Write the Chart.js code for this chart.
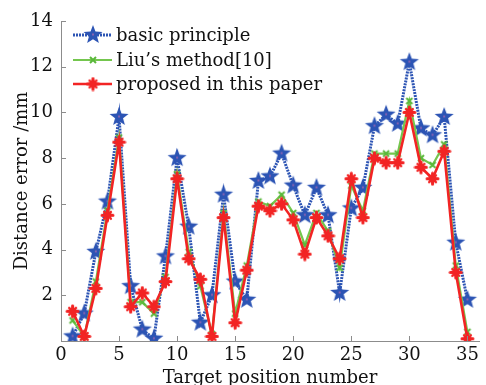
<!DOCTYPE html>
<html>
<head>
<meta charset="utf-8">
<script src="https://cdn.jsdelivr.net/npm/chart.js@4/dist/chart.umd.min.js"></script>
<style>
  body { margin: 0; background: #fff; }
  #wrap { width: 486px; height: 385px; }
</style>
</head>
<body>
<div id="wrap"><canvas id="grafico" width="486" height="385"></canvas></div>
<script>
// dados
const positions = [1, 2, 3, 4, 5, 6, 7, 8, 9, 10, 11, 12, 13, 14, 15, 16, 17, 18, 19, 20,
                   21, 22, 23, 24, 25, 26, 27, 28, 29, 30, 31, 32, 33, 34, 35];
const basicPrinciple = [0.2, 1.2, 3.9, 6.1, 9.8, 2.4, 0.5, 0.1, 3.7, 8.0, 5.0, 0.8, 2.0, 6.4, 2.6, 1.8, 7.0, 7.2, 8.2, 6.8,
                        5.5, 6.7, 5.5, 2.1, 5.8, 6.7, 9.4, 9.9, 9.5, 12.2, 9.3, 9.0, 9.8, 4.3, 1.8];
const liuMethod = [0.9, 0.2, 2.6, 5.7, 8.9, 1.7, 1.7, 1.2, 2.8, 7.3, 3.9, 2.4, 0.3, 5.6, 1.2, 3.3, 6.1, 5.9, 6.4, 5.6,
                   4.2, 5.6, 4.8, 3.2, 6.8, 5.7, 8.2, 8.2, 8.2, 10.5, 8.0, 7.7, 8.6, 3.3, 0.4];
const proposed = [1.3, 0.2, 2.3, 5.5, 8.7, 1.5, 2.1, 1.5, 2.6, 7.1, 3.6, 2.7, 0.2, 5.4, 0.8, 3.1, 5.9, 5.7, 6.0, 5.3,
                  3.8, 5.4, 4.6, 3.6, 7.1, 5.4, 8.0, 7.8, 7.8, 10.0, 7.6, 7.1, 8.3, 3.0, 0.1];
const seriesNames = ['basic principle', 'Liu\u2019s method[10]', 'proposed in this paper'];
const xTicks = [0, 5, 10, 15, 20, 25, 30, 35];
const yTicks = [2, 4, 6, 8, 10, 12, 14];

const FONT = 'DejaVu Serif';
const AXIS = '#8c8c8c';

// marcadores desenhados num canvas
function estrela(r, cor) {
    const c = document.createElement('canvas');
    c.width = c.height = r * 2 + 2;
    const g = c.getContext('2d');
    g.translate(r + 1, r + 1);
    g.beginPath();
    for (let i = 0; i < 10; i++) {
        const rr = i % 2 === 0 ? r : r * 0.42;
        const a = -Math.PI / 2 + i * Math.PI / 5;
        g.lineTo(rr * Math.cos(a), rr * Math.sin(a));
    }
    g.closePath();
    g.fillStyle = cor;
    g.fill();
    g.fillStyle = '#e070b0';
    g.fillRect(-0.5, -1.5, 1, 2);
    return c;
}

function asterisco(r, cor) {
    const c = document.createElement('canvas');
    c.width = c.height = r * 2 + 2;
    const g = c.getContext('2d');
    g.translate(r + 1, r + 1);
    g.strokeStyle = cor;
    g.lineCap = 'round';
    g.lineWidth = 3;
    g.beginPath();
    g.moveTo(-r + 1, 0); g.lineTo(r - 1, 0);
    g.moveTo(0, -r + 1); g.lineTo(0, r - 1);
    g.stroke();
    g.lineWidth = 2.5;
    const d = (r - 2) * 0.75;
    g.beginPath();
    g.moveTo(-d, -d); g.lineTo(d, d);
    g.moveTo(-d, d); g.lineTo(d, -d);
    g.stroke();
    return c;
}

function cruz(r, cor) {
    const c = document.createElement('canvas');
    c.width = c.height = r * 2 + 2;
    const g = c.getContext('2d');
    g.translate(r + 1, r + 1);
    g.strokeStyle = cor;
    g.lineWidth = 2;
    g.beginPath();
    g.moveTo(-r + 1, -r + 1); g.lineTo(r - 1, r - 1);
    g.moveTo(-r + 1, r - 1); g.lineTo(r - 1, -r + 1);
    g.stroke();
    return c;
}

const AZUL = '#2c54b4';
const VERDE = '#74c64e';
const VERMELHO = '#f22424';

const imgAzul = estrela(10, AZUL);
const imgVerde = cruz(4, '#5ab83a');
const imgVermelho = asterisco(6.5, VERMELHO);

function pontos(vals) {
    return positions.map((p, i) => ({ x: p, y: vals[i] }));
}

// legenda com linha + marcador
const legendaPlugin = {
    id: 'legenda',
    afterDatasetsDraw(chart) {
        const g = chart.ctx;
        const ys = [35, 60, 84];
        chart.data.datasets.forEach((ds, i) => {
            const y = ys[i];
            g.save();
            g.strokeStyle = ds.borderColor;
            g.lineWidth = ds.borderWidth;
            g.setLineDash(ds.borderDash || []);
            g.beginPath();
            g.moveTo(73, y);
            g.lineTo(112, y);
            g.stroke();
            const img = ds.pointStyle;
            g.drawImage(img, 93 - img.width / 2, y - img.height / 2);
            g.fillStyle = '#111';
            g.font = '18px "' + FONT + '"';
            g.textBaseline = 'middle';
            g.fillText(seriesNames[i], 116, y + 1);
            g.restore();
        });
    }
};

// marcas dos eixos para dentro
const marcasPlugin = {
    id: 'marcas',
    afterDraw(chart) {
        const g = chart.ctx;
        const xs = chart.scales.x, ys = chart.scales.y;
        const a = chart.chartArea;
        g.save();
        g.strokeStyle = AXIS;
        g.lineWidth = 1;
        g.beginPath();
        xTicks.forEach(v => {
            const px = Math.round(xs.getPixelForValue(v)) + 0.5;
            g.moveTo(px, a.bottom); g.lineTo(px, a.bottom - 5);
        });
        yTicks.forEach(v => {
            const py = Math.round(ys.getPixelForValue(v)) + 0.5;
            g.moveTo(a.left, py); g.lineTo(a.left + 5, py);
        });
        g.stroke();
        g.restore();
    }
};

const ctx = document.getElementById('grafico').getContext('2d');

new Chart(ctx, {
    type: 'line',
    data: {
        datasets: [
            {
                label: seriesNames[0],
                data: pontos(basicPrinciple),
                borderColor: AZUL,
                borderWidth: 3,
                borderDash: [2, 1],
                pointStyle: imgAzul,
                order: 3
            },
            {
                label: seriesNames[1],
                data: pontos(liuMethod),
                borderColor: VERDE,
                borderWidth: 2.2,
                pointStyle: imgVerde,
                order: 2
            },
            {
                label: seriesNames[2],
                data: pontos(proposed),
                borderColor: VERMELHO,
                borderWidth: 2.6,
                pointStyle: imgVermelho,
                order: 1
            }
        ]
    },
    options: {
        responsive: false,
        animation: false,
        devicePixelRatio: 1,
        layout: { padding: { top: 21, right: 0, left: 0, bottom: 0 } },
        plugins: {
            legend: { display: false },
            tooltip: { enabled: false }
        },
        elements: { line: { tension: 0 } },
        scales: {
            x: {
                type: 'linear',
                min: 0,
                max: 36,
                afterBuildTicks: s => { s.ticks = xTicks.map(v => ({ value: v })); },
                afterFit: s => { s.height = 44; },
                grid: { display: false, drawTicks: false },
                border: { color: AXIS, width: 1 },
                ticks: {
                    color: '#111',
                    padding: 4,
                    font: { family: FONT, size: 18 },
                    maxRotation: 0
                },
                title: {
                    display: true,
                    text: 'Target position number',
                    color: '#111',
                    font: { family: FONT, size: 18, lineHeight: 1 },
                    padding: { top: 0, bottom: -2 }
                }
            },
            y: {
                min: 0,
                max: 14,
                afterBuildTicks: s => { s.ticks = yTicks.map(v => ({ value: v })); },
                afterFit: s => { s.width = 61; },
                grid: { display: false, drawTicks: false },
                border: { color: AXIS, width: 1 },
                ticks: {
                    color: '#111',
                    padding: 8,
                    font: { family: FONT, size: 18 }
                },
                title: {
                    display: true,
                    text: 'Distance error /mm',
                    color: '#111',
                    font: { family: FONT, size: 18, lineHeight: 1 },
                    padding: { top: 13, bottom: 0 }
                }
            }
        }
    },
    plugins: [legendaPlugin, marcasPlugin]
});
</script>
</body>
</html>
